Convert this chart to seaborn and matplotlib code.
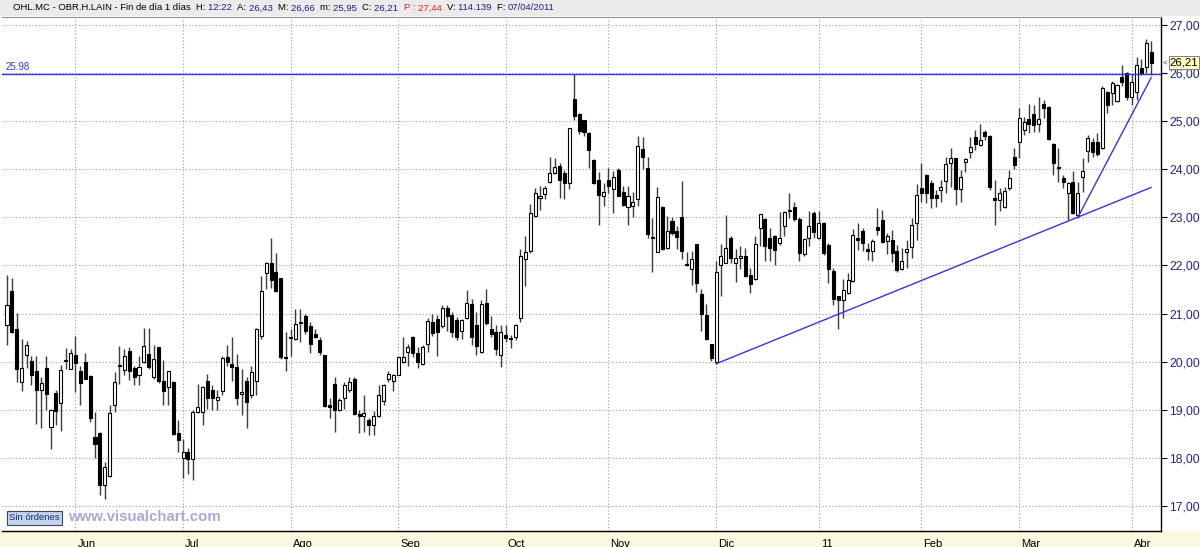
import numpy as np
import pandas as pd
import matplotlib
matplotlib.use("Agg")
import matplotlib.pyplot as plt
import matplotlib.transforms as mtransforms
from matplotlib.patches import Rectangle
import seaborn as sns

# ---------------- data ----------------
opens = [20.77, 21.46, 20.68, 19.58, 20.14, 20.01, 19.82, 19.41, 19.87, 18.65,
         19.35, 19.15, 20.04, 19.86, 20.15, 19.81, 19.99, 19.70, 18.45, 18.53,
         17.45, 17.64, 19.11, 19.92, 19.84, 20.22, 19.88, 19.72, 19.99, 20.17,
         19.68, 20.30, 19.61, 19.48, 19.59, 18.52, 18.01, 18.12, 17.98, 18.95,
         18.95, 19.61, 19.41, 19.20, 19.40, 20.11, 19.96, 19.90, 19.34, 19.61,
         19.31, 19.60, 20.53, 21.85, 22.05, 21.86, 21.75, 20.11, 20.49, 20.47,
         20.80, 20.95, 20.75, 20.58, 20.46, 20.14, 19.10, 19.55, 19.00, 19.25,
         19.41, 19.65, 18.91, 18.88, 18.79, 18.69, 18.88, 19.18, 19.64, 19.60,
         19.73, 19.99, 20.21, 20.51, 20.18, 19.96, 20.37, 20.82, 20.88, 20.75,
         21.12, 20.98, 20.86, 20.65, 20.91, 21.20, 20.76, 20.21, 21.22, 20.69,
         20.61, 20.14, 20.55, 20.47, 20.52, 20.91, 22.13, 22.30, 23.03, 23.41,
         23.49, 23.73, 23.91, 24.06, 23.91, 23.71, 25.45, 25.14, 25.01, 24.75,
         24.18, 23.77, 23.45, 23.77, 23.59, 23.99, 23.52, 23.22, 23.24, 23.38,
         24.41, 24.02, 22.58, 22.28, 23.21, 22.37, 22.93, 22.71, 23.00, 22.03,
         21.92, 22.44, 21.41, 20.98, 20.38, 20.00, 22.01, 22.06, 22.56, 22.05,
         22.16, 22.20, 21.81, 21.71, 22.78, 22.97, 22.57, 22.61, 22.47, 22.81,
         23.12, 23.21, 22.97, 22.23, 22.57, 23.09, 22.57, 22.88, 22.43, 21.88,
         21.37, 21.28, 21.43, 21.68, 22.57, 22.71, 22.33, 22.30, 22.79, 22.95,
         22.50, 22.52, 22.30, 21.92, 22.27, 22.39, 22.88, 23.61, 23.88, 23.72,
         23.46, 23.57, 23.76, 24.13, 24.22, 23.58, 24.15, 24.36, 24.66, 24.50,
         24.77, 24.68, 23.39, 23.36, 23.21, 23.60, 24.26, 24.57, 24.82, 25.03,
         25.15, 24.94, 25.36, 25.29, 24.53, 24.03, 23.81, 23.50, 23.74, 23.05,
         23.83, 24.38, 24.57, 24.56, 24.43, 25.61, 25.57, 25.41, 25.92, 25.99,
         25.50, 25.61, 26.10, 26.12, 26.43]
highs = [21.80, 21.75, 21.02, 20.47, 20.44, 20.13, 20.13, 19.68, 20.13, 19.02,
         19.41, 19.94, 20.28, 20.27, 20.53, 19.92, 20.18, 19.72, 18.96, 18.55,
         17.92, 19.11, 19.79, 20.32, 20.27, 20.30, 19.92, 20.13, 20.70, 20.70,
         20.34, 20.30, 20.03, 19.82, 19.60, 18.79, 18.40, 18.21, 19.00, 19.55,
         19.50, 19.75, 19.51, 19.42, 20.13, 20.34, 20.51, 20.16, 19.86, 19.68,
         19.92, 20.71, 21.78, 22.07, 22.57, 22.26, 21.75, 20.61, 20.68, 21.09,
         21.10, 20.99, 20.82, 20.68, 20.51, 20.15, 19.24, 19.68, 19.24, 19.58,
         19.68, 19.68, 19.00, 19.31, 18.83, 18.97, 19.51, 19.55, 19.82, 19.75,
         20.13, 20.51, 20.37, 20.54, 20.30, 20.34, 20.90, 20.99, 20.97, 21.19,
         21.19, 21.03, 20.93, 20.89, 21.50, 21.31, 21.03, 21.29, 21.51, 20.96,
         20.76, 20.76, 20.76, 20.55, 20.79, 22.34, 22.61, 23.27, 23.61, 23.65,
         23.65, 24.26, 24.23, 24.13, 23.99, 24.86, 25.98, 25.16, 25.02, 24.78,
         24.20, 23.93, 23.71, 24.02, 23.95, 24.02, 23.64, 23.64, 23.52, 24.69,
         24.67, 24.26, 22.99, 23.62, 23.24, 23.02, 23.01, 22.82, 23.75, 22.27,
         22.30, 22.44, 21.51, 21.20, 20.38, 22.10, 22.44, 23.04, 22.61, 22.34,
         22.41, 22.37, 21.95, 22.62, 23.07, 22.99, 22.78, 22.64, 23.10, 23.12,
         23.50, 23.31, 23.01, 22.57, 23.12, 23.12, 23.12, 22.90, 22.47, 21.95,
         21.37, 21.72, 21.85, 22.76, 22.88, 22.78, 22.47, 22.55, 23.19, 23.16,
         22.68, 22.74, 22.43, 22.37, 22.53, 22.98, 23.70, 24.12, 23.89, 23.77,
         23.57, 23.77, 24.26, 24.43, 24.22, 23.98, 24.22, 24.67, 24.81, 24.94,
         24.81, 24.70, 23.77, 23.60, 23.63, 23.99, 24.43, 25.26, 25.08, 25.36,
         25.32, 25.50, 25.43, 25.30, 24.55, 24.43, 23.88, 23.74, 23.95, 23.74,
         24.24, 24.71, 24.65, 24.74, 25.73, 25.62, 25.83, 25.76, 26.16, 26.02,
         25.97, 26.33, 26.28, 26.70, 26.66]
lows = [20.34, 20.60, 19.58, 19.39, 19.87, 19.51, 18.72, 18.63, 19.00, 18.19,
        18.69, 18.56, 19.86, 19.85, 19.37, 19.10, 19.64, 18.76, 18.00, 17.24,
        17.16, 17.62, 18.96, 19.55, 19.72, 19.62, 19.53, 19.51, 19.98, 19.85,
        19.65, 19.57, 19.10, 19.10, 18.48, 18.12, 17.59, 17.67, 17.55, 18.94,
        18.69, 19.03, 19.00, 19.00, 19.31, 19.92, 19.61, 19.10, 18.89, 18.62,
        19.24, 19.32, 20.47, 21.51, 21.54, 21.44, 20.06, 19.80, 20.13, 20.45,
        20.42, 20.58, 20.18, 20.49, 20.14, 19.07, 18.83, 18.55, 18.99, 19.03,
        19.38, 18.90, 18.52, 18.55, 18.49, 18.49, 18.86, 19.10, 19.58, 19.39,
        19.72, 19.97, 19.91, 20.10, 19.87, 19.94, 20.21, 20.54, 20.13, 20.71,
        20.64, 20.52, 20.45, 20.48, 20.89, 20.34, 20.14, 20.19, 20.76, 20.52,
        20.14, 19.90, 20.41, 20.28, 20.45, 20.83, 21.58, 22.26, 23.01, 23.16,
        23.37, 23.71, 23.89, 23.40, 23.37, 23.58, 25.02, 24.73, 24.69, 24.02,
        23.70, 22.83, 23.23, 23.51, 23.09, 23.44, 23.23, 22.85, 23.01, 23.23,
        24.00, 22.56, 21.87, 22.27, 22.32, 22.34, 22.63, 22.34, 22.13, 21.99,
        21.59, 21.44, 20.65, 20.45, 20.01, 19.96, 21.37, 22.05, 22.06, 21.65,
        21.92, 21.77, 21.43, 21.70, 22.40, 22.09, 22.09, 22.02, 22.43, 22.61,
        22.99, 22.92, 22.09, 22.19, 22.40, 22.57, 22.54, 22.21, 21.64, 21.19,
        20.68, 20.90, 21.40, 21.66, 22.33, 22.30, 22.12, 22.09, 22.64, 22.47,
        22.23, 22.08, 21.86, 21.90, 21.95, 22.15, 22.53, 23.32, 23.29, 23.19,
        23.21, 23.32, 23.50, 23.63, 23.26, 23.32, 23.94, 24.22, 24.39, 24.48,
        24.60, 23.57, 22.84, 23.12, 23.19, 23.57, 24.01, 24.22, 24.70, 24.75,
        24.77, 24.77, 25.05, 24.61, 23.88, 23.74, 23.60, 22.95, 23.06, 22.99,
        23.53, 24.15, 24.26, 24.28, 24.42, 25.16, 25.33, 25.40, 25.73, 25.43,
        25.34, 25.43, 25.95, 25.99, 25.95]
closes = [21.18, 20.61, 19.86, 19.87, 20.36, 19.72, 19.41, 19.57, 19.34, 19.00,
          18.98, 19.84, 20.01, 20.18, 19.98, 19.57, 19.65, 18.84, 18.29, 17.44,
          17.81, 18.93, 19.58, 19.94, 20.12, 19.81, 19.68, 19.89, 20.32, 19.90,
          20.06, 19.61, 19.40, 19.80, 18.50, 18.38, 18.12, 17.98, 18.96, 19.07,
          19.48, 19.24, 19.24, 19.27, 20.08, 19.99, 19.90, 19.25, 19.35, 19.17,
          19.79, 20.69, 21.47, 22.05, 21.70, 21.47, 20.11, 20.08, 20.51, 20.78,
          20.82, 20.64, 20.37, 20.51, 20.21, 19.09, 19.07, 19.00, 19.21, 19.51,
          19.58, 18.91, 18.88, 18.93, 18.69, 18.88, 19.31, 19.53, 19.74, 19.72,
          20.11, 20.11, 20.30, 20.18, 19.99, 20.30, 20.85, 20.59, 20.61, 21.12,
          20.95, 20.62, 20.52, 20.86, 21.22, 20.52, 20.33, 21.20, 20.81, 20.58,
          20.26, 20.62, 20.50, 20.50, 20.77, 22.19, 22.27, 23.09, 23.51, 23.44,
          23.61, 23.91, 24.04, 23.78, 23.71, 24.85, 25.10, 24.80, 24.78, 24.39,
          23.71, 23.47, 23.53, 23.64, 23.83, 23.45, 23.26, 23.45, 23.31, 24.48,
          24.25, 22.65, 22.56, 23.42, 22.35, 22.71, 22.68, 22.60, 22.30, 22.01,
          22.14, 21.64, 21.00, 20.48, 20.08, 21.87, 22.20, 22.37, 22.16, 22.16,
          22.20, 21.79, 21.61, 22.45, 23.06, 22.41, 22.37, 22.32, 22.57, 23.10,
          23.14, 22.97, 22.25, 22.55, 22.81, 22.69, 22.88, 22.26, 21.93, 21.31,
          21.28, 21.50, 21.70, 22.64, 22.52, 22.47, 22.31, 22.50, 22.74, 22.48,
          22.61, 22.25, 21.90, 22.09, 22.34, 22.83, 23.46, 23.51, 23.50, 23.39,
          23.39, 23.63, 24.10, 24.22, 23.58, 23.83, 24.20, 24.45, 24.53, 24.60,
          24.68, 23.62, 23.36, 23.50, 23.55, 23.81, 24.08, 25.05, 24.98, 24.94,
          24.91, 25.03, 25.26, 24.63, 24.12, 24.02, 23.73, 23.71, 23.08, 23.50,
          23.96, 24.64, 24.35, 24.31, 25.68, 25.33, 25.78, 25.74, 25.80, 25.50,
          25.80, 26.16, 25.99, 26.61, 26.21]

month_labels = ["Jun", "Jul", "Ago", "Sep", "Oct", "Nov", "Dic", "11", "Feb", "Mar", "Abr"]
month_index = [14, 36, 58, 80, 102, 123, 145, 166, 187, 207, 230]
price_ticks = [17, 18, 19, 20, 21, 22, 23, 24, 25, 26, 27]

resistance = 25.98
trend_low_idx = [145, 234]
trend_low_val = [19.96, 23.62]
trend_fast_idx = [219, 234]
trend_fast_val = [23.00, 25.90]
last_close = 26.21

header_pieces = [
    ("OHL.MC - OBR.H.LAIN - Fin de día 1 días  ", "black"),
    ("H: ", "black"), ("12:22  ", "#1e1e8c"),
    ("A: ", "black"), ("26,43  ", "#1e1e8c"),
    ("M: ", "black"), ("26,66  ", "#1e1e8c"),
    ("m: ", "black"), ("25,95  ", "#1e1e8c"),
    ("C: ", "black"), ("26,21  ", "#1e1e8c"),
    ("P : ", "#e82020"), ("27,44  ", "#e82020"),
    ("V: ", "black"), ("114.139  ", "#1e1e8c"),
    ("F: ", "black"), ("07/04/2011", "#1e1e8c"),
]

# ---------------- figure ----------------
sns.set_theme(style="white")
plt.rcParams["font.family"] = ["Liberation Sans", "DejaVu Sans"]

W, H = 1200, 547
fig = plt.figure(figsize=(W / 100, H / 100), dpi=100, facecolor="white")

# header and bottom strips
fig.add_artist(Rectangle((0, 1 - 16 / H), 1, 16 / H, transform=fig.transFigure,
                         facecolor="#ebebeb", edgecolor="none", zorder=0))
fig.add_artist(Rectangle((0, 0), 1, 16 / H, transform=fig.transFigure,
                         facecolor="#faf8de", edgecolor="none", zorder=0))

ax = fig.add_axes([2 / W, 16 / H, 1159 / W, (531 - 17) / H])
ax.set_facecolor("white")

df = pd.DataFrame({"o": opens, "h": highs, "l": lows, "c": closes})
df["i"] = np.arange(len(df))
up = df["c"] >= df["o"]
body = np.maximum((df["c"] - df["o"]).abs(), 0.025)

ax.vlines(df["i"], df["l"], df["h"], color="#3c3c3c", lw=1.0, zorder=2)
ax.bar(df["i"][up], body[up], bottom=df["o"][up], width=0.62,
       color="white", edgecolor="black", linewidth=0.8, zorder=3)
ax.bar(df["i"][~up], body[~up], bottom=df["c"][~up], width=0.62,
       color="black", edgecolor="black", linewidth=0.8, zorder=3)

blue = "#3434e8"
ax.axhline(resistance, color=blue, lw=1.0, zorder=4)
sns.lineplot(x=trend_low_idx, y=trend_low_val, ax=ax, color=blue, lw=1.0, zorder=4)
sns.lineplot(x=trend_fast_idx, y=trend_fast_val, ax=ax, color=blue, lw=1.0, zorder=4)

ax.text(0.003, resistance + 0.03, f"{resistance:.2f}", color=blue, fontsize=7,
        transform=mtransforms.blended_transform_factory(ax.transAxes, ax.transData),
        va="bottom", ha="left")

ax.set_xlim(-1.02, 236.0)
ax.set_ylim(16.49, 27.156)
ax.set_xlabel("")
ax.set_ylabel("")

# y axis on the right
ax.yaxis.tick_right()
ax.set_yticks(price_ticks)
ax.set_yticklabels([f"{v:.2f}".replace(".", ",") for v in price_ticks])
ax.tick_params(axis="y", which="major", direction="out", length=4, width=0.8,
               color="black", labelcolor="#24248a", labelsize=8.8, pad=2)

# month axis
ax.set_xticks(month_index)
ax.set_xticklabels(month_labels, ha="left")
ax.tick_params(axis="x", which="major", direction="out", length=5, width=0.8,
               color="black", labelcolor="black", labelsize=8, pad=1)
offset = mtransforms.ScaledTranslation(2 / 100, 0, fig.dpi_scale_trans)
for lab in ax.get_xticklabels():
    lab.set_transform(lab.get_transform() + offset)

ax.grid(True, which="major", linestyle=(0, (1, 2)), color="#9a9a9a", lw=0.8)
ax.set_axisbelow(True)

ax.spines["left"].set_visible(False)
ax.spines["top"].set_color("#909090")
ax.spines["top"].set_linewidth(0.8)
for side in ["right", "bottom"]:
    ax.spines[side].set_color("black")
    ax.spines[side].set_linewidth(1.0)
    ax.spines[side].set_visible(True)

# last price marker
lp_tr = mtransforms.blended_transform_factory(ax.transAxes, ax.transData)
ax.text(1.0075, last_close, f"{last_close:.2f}".replace(".", ","), transform=lp_tr,
        fontsize=8.2, color="black", va="center", ha="left",
        bbox=dict(boxstyle="square,pad=0.1", facecolor="#ffffc0", edgecolor="#808080", lw=0.7),
        clip_on=False)
ax.text(1.0015, last_close, "<", transform=lp_tr, fontsize=6, color="#404040",
        va="center", ha="left", clip_on=False)

# header text, chained pieces
hs = 6.8
t = fig.text(13 / W, 1 - 8 / H, header_pieces[0][0], color=header_pieces[0][1],
             fontsize=hs, va="center", ha="left")
for txt, col in header_pieces[1:]:
    t = ax.annotate(txt, xy=(1, 0), xycoords=t, va="bottom", ha="left",
                    fontsize=hs, color=col, annotation_clip=False)

# bottom-left button and watermark
fig.text(9 / W, 1 - 518 / H, "Sin órdenes", fontsize=6.8, color="#1c2a6a",
         va="center", ha="left",
         bbox=dict(boxstyle="square,pad=0.25", facecolor="#c4d4ec", edgecolor="#404858", lw=0.8))
fig.text(68 / W, 1 - 517 / H, "www.visualchart.com", fontsize=10.8, fontweight="bold",
         color="#a6a8d6", va="center", ha="left")

fig.savefig("out.png", dpi=100, facecolor="white")
